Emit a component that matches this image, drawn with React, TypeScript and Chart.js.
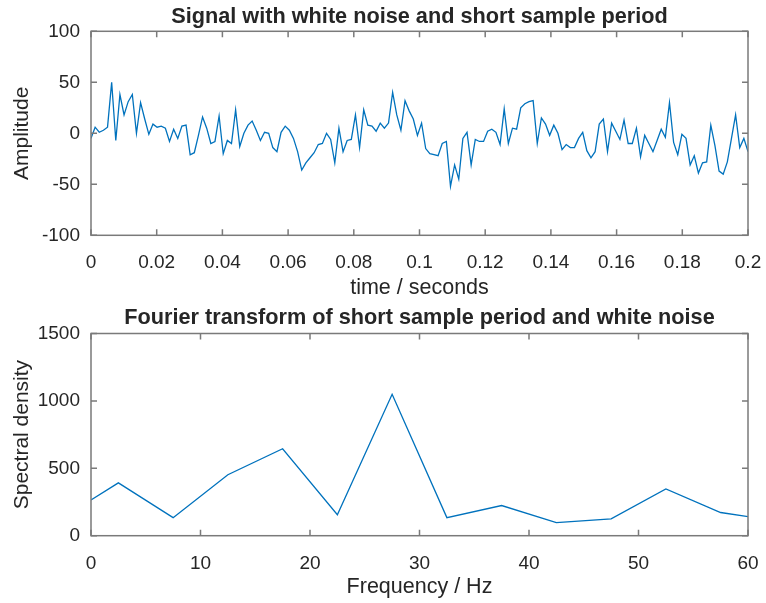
import React, { useEffect, useRef } from "react";
import { Chart, registerables } from "chart.js";

Chart.register(...registerables);

// ---------- data ----------
const DURATION = 0.2; // seconds, samples span 0..DURATION
const signalValues = [
  -5, 6, 1, 3, 6, 50, -7, 38, 18, 31,
  38, 0, 30, 14, -1, 9, 6, 7, 5, -8,
  4, -5, 7, 8, -21, -19, -2, 16, 5, -10,
  -8, 17, -20, -7, -10, 23, -13, 0, 8, 12,
  3, -7, 1, 0, -14, -18, 1, 7, 3, -5,
  -18, -36, -29, -24, -19, -11, -10, 0, -6, -29,
  5, -18, -7, -6, 18, -14, 23, 8, 7, 2,
  10, 5, 10, 40, 18, 3, 32, 22, 14, -2,
  10, -15, -20, -21, -22, -10, -8, -52, -31, -45,
  -5, 1, -31, -6, -8, -8, 2, 4, 1, -11,
  24, -10, 5, 4, 25, 29, 31, 32, -10, 15,
  9, -2, 8, 0, -16, -11, -14, -14, -5, 1,
  -17, -24, -18, 9, 14, -18, 10, 2, -6, 13,
  -10, -10, 5, -23, -2, -10, -18, -7, 4, -4,
  30, -9, -21, -1, -5, -31, -22, -39, -29, -28,
  8, -12, -37, -40, -28, -5, 18, -14, -5, -18,
];
const timeTicks = [0, 0.02, 0.04, 0.06, 0.08, 0.1, 0.12, 0.14, 0.16, 0.18, 0.2];
const amplitudeTicks = [-100, -50, 0, 50, 100];

const frequencies = [0, 2.5, 7.5, 12.5, 17.5, 22.5, 27.5, 32.5, 37.5, 42.5, 47.5, 52.5, 57.5, 62.5];
const spectralDensity = [265, 392, 134, 452, 645, 156, 1049, 134, 224, 97, 125, 347, 172, 111];
const frequencyTicks = [0, 10, 20, 30, 40, 50, 60];
const densityTicks = [0, 500, 1000, 1500];

// ---------- styles ----------
const FONT = "'Liberation Sans', Arial, Helvetica, sans-serif";
const TEXT = "#262626";
const AXIS = "#7a7a7a";
const LINE = "#0072BD";

const boxPlugin = {
  id: "matlabBox",
  afterDatasetsDraw(chart: any) {
    const { ctx, chartArea: a, scales } = chart;
    const xs = scales.x;
    const ys = scales.y;
    const L = 6;
    ctx.save();
    ctx.strokeStyle = AXIS;
    ctx.lineWidth = 1.5;
    ctx.strokeRect(a.left, a.top, a.right - a.left, a.bottom - a.top);
    ctx.beginPath();
    xs.ticks.forEach((t: any) => {
      const px = xs.getPixelForValue(t.value);
      ctx.moveTo(px, a.bottom);
      ctx.lineTo(px, a.bottom - L);
      ctx.moveTo(px, a.top);
      ctx.lineTo(px, a.top + L);
    });
    ys.ticks.forEach((t: any) => {
      const py = ys.getPixelForValue(t.value);
      ctx.moveTo(a.left, py);
      ctx.lineTo(a.left + L, py);
      ctx.moveTo(a.right, py);
      ctx.lineTo(a.right - L, py);
    });
    ctx.stroke();
    ctx.restore();
  },
};

type PanelCfg = {
  height: number;
  title: string;
  titlePad: { top: number; bottom: number };
  xLabel: string;
  xLabelPadBottom: number;
  yLabel: string;
  xs: number[];
  ys: number[];
  xMin: number;
  xMax: number;
  yMin: number;
  yMax: number;
  xTicks: number[];
  yTicks: number[];
  plotBottom: number;
};

function makeConfig(c: PanelCfg): any {
  const fmt = (v: number) => String(Number(v.toFixed(4)));
  return {
    type: "line",
    data: {
      datasets: [
        {
          data: c.xs.map((x, i) => ({ x, y: c.ys[i] })),
          borderColor: LINE,
          borderWidth: 1.3,
          pointRadius: 0,
          tension: 0,
          fill: false,
        },
      ],
    },
    options: {
      animation: false,
      responsive: false,
      devicePixelRatio: 1,
      layout: { padding: { left: 0, right: 18, top: 0, bottom: 0 } },
      plugins: {
        legend: { display: false },
        tooltip: { enabled: false },
        title: {
          display: true,
          fullSize: false,
          text: c.title,
          color: TEXT,
          font: { family: FONT, size: 21.7, weight: "bold" },
          padding: c.titlePad,
        },
      },
      scales: {
        x: {
          type: "linear",
          min: c.xMin,
          max: c.xMax,
          grid: { display: false, drawTicks: false },
          border: { display: false },
          afterBuildTicks: (s: any) => {
            s.ticks = c.xTicks.map((v) => ({ value: v }));
          },
          afterFit: (s: any) => {
            s.height = c.height - c.plotBottom;
            s.paddingLeft = 0;
            s.paddingRight = 0;
          },
          ticks: {
            color: TEXT,
            font: { family: FONT, size: 19 },
            padding: 16.5,
            maxRotation: 0,
            autoSkip: false,
            callback: (v: number) => fmt(v),
          },
          title: {
            display: true,
            text: c.xLabel,
            color: TEXT,
            font: { family: FONT, size: 21.5 },
            padding: { top: 0, bottom: c.xLabelPadBottom },
          },
        },
        y: {
          type: "linear",
          min: c.yMin,
          max: c.yMax,
          grid: { display: false, drawTicks: false },
          border: { display: false },
          afterBuildTicks: (s: any) => {
            s.ticks = c.yTicks.map((v) => ({ value: v }));
          },
          afterFit: (s: any) => {
            s.width = 91;
            s.paddingTop = 0;
            s.paddingBottom = 0;
          },
          ticks: {
            color: TEXT,
            font: { family: FONT, size: 19 },
            padding: 11,
            autoSkip: false,
            callback: (v: number) => fmt(v),
          },
          title: {
            display: true,
            text: c.yLabel,
            color: TEXT,
            font: { family: FONT, size: 21 },
            padding: { top: 9.4, bottom: 0 },
          },
        },
      },
    },
    plugins: [boxPlugin],
  };
}

function Panel({ top, cfg }: { top: number; cfg: PanelCfg }) {
  const ref = useRef<HTMLCanvasElement | null>(null);
  useEffect(() => {
    if (!ref.current) return;
    const chart = new Chart(ref.current, makeConfig(cfg));
    return () => chart.destroy();
  }, []);
  return (
    <canvas
      ref={ref}
      width={766}
      height={cfg.height}
      style={{ position: "absolute", left: 0, top, width: 766, height: cfg.height }}
    />
  );
}

export default function App() {
  const times = signalValues.map((_, i) => (i * DURATION) / (signalValues.length - 1));
  const top: PanelCfg = {
    height: 310,
    title: "Signal with white noise and short sample period",
    titlePad: { top: 4, bottom: 1.26 },
    xLabel: "time / seconds",
    xLabelPadBottom: 8.6,
    yLabel: "Amplitude",
    xs: times,
    ys: signalValues,
    xMin: 0,
    xMax: 0.2,
    yMin: -100,
    yMax: 100,
    xTicks: timeTicks,
    yTicks: amplitudeTicks,
    plotBottom: 235.3,
  };
  const bottom: PanelCfg = {
    height: 303,
    title: "Fourier transform of short sample period and white noise",
    titlePad: { top: 5, bottom: 2.46 },
    xLabel: "Frequency / Hz",
    xLabelPadBottom: 3.1,
    yLabel: "Spectral density",
    xs: frequencies,
    ys: spectralDensity,
    xMin: 0,
    xMax: 60,
    yMin: 0,
    yMax: 1500,
    xTicks: frequencyTicks,
    yTicks: densityTicks,
    plotBottom: 235.7,
  };
  return (
    <div style={{ position: "absolute", left: 0, top: 0, width: 766, height: 603, background: "#fff" }}>
      <Panel top={0} cfg={top} />
      <Panel top={300} cfg={bottom} />
    </div>
  );
}
